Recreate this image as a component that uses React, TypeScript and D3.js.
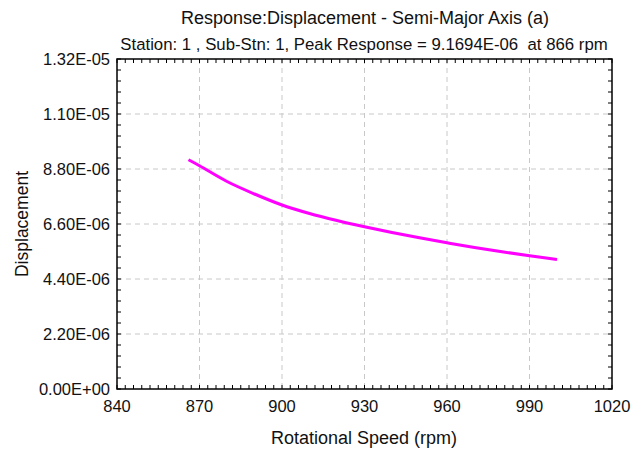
import React from "react";
import * as d3 from "d3";

const rpm = [866, 870, 880, 890, 900, 910, 920, 930, 940, 950, 960, 970, 980, 990, 1000];
const displacement = [
  9.1694e-6, 8.93e-6, 8.3e-6, 7.8e-6, 7.36e-6, 7.02e-6, 6.74e-6, 6.49e-6,
  6.26e-6, 6.05e-6, 5.85e-6, 5.66e-6, 5.49e-6, 5.33e-6, 5.18e-6,
];
const xTicks = [840, 870, 900, 930, 960, 990, 1020];
const yTicks = [0, 2.2e-6, 4.4e-6, 6.6e-6, 8.8e-6, 1.1e-5, 1.32e-5];
const yTickLabels = ["0.00E+00", "2.20E-06", "4.40E-06", "6.60E-06", "8.80E-06", "1.10E-05", "1.32E-05"];

const title = "Response:Displacement - Semi-Major Axis (a)";
const subtitle = "Station: 1 , Sub-Stn: 1, Peak Response = 9.1694E-06  at 866 rpm";

export default function App() {
  const W = 642, H = 450;
  const left = 117, right = 612, top = 59, bottom = 389;
  const x = d3.scaleLinear().domain([840, 1020]).range([left, right]);
  const y = d3.scaleLinear().domain([0, 1.32e-5]).range([bottom, top]);

  const xMinor = d3.range(840, 1020.001, 3);
  const yMinor = d3.range(0, 31).map((i) => i * 4.4e-7);

  const line = d3
    .line<number>()
    .x((_, i) => x(rpm[i]))
    .y((d) => y(d))
    .curve(d3.curveCatmullRom);

  const font = "Arial, 'Liberation Sans', sans-serif";
  const tickLen = 4;
  const gridColor = "#c8c8c8";

  return (
    <svg
      width={W}
      height={H}
      style={{ position: "absolute", left: 0, top: 0, background: "#fff" }}
      fontFamily={font}
    >
      <rect x={0} y={0} width={W} height={H} fill="#fff" />
      {/* grid */}
      {xTicks.slice(1, -1).map((t) => (
        <line key={"gx" + t} x1={x(t)} x2={x(t)} y1={top} y2={bottom} stroke={gridColor} strokeDasharray="5,4" />
      ))}
      {yTicks.slice(1, -1).map((t) => (
        <line key={"gy" + t} x1={left} x2={right} y1={y(t)} y2={y(t)} stroke={gridColor} strokeDasharray="5,4" />
      ))}
      {/* minor ticks, inward on all four sides */}
      {xMinor.map((t) => (
        <g key={"mx" + t}>
          <line x1={x(t)} x2={x(t)} y1={bottom} y2={bottom - tickLen} stroke="#000" />
          <line x1={x(t)} x2={x(t)} y1={top} y2={top + tickLen} stroke="#000" />
        </g>
      ))}
      {yMinor.map((t, i) => (
        <g key={"my" + i}>
          <line x1={left} x2={left + tickLen} y1={y(t)} y2={y(t)} stroke="#000" />
          <line x1={right} x2={right - tickLen} y1={y(t)} y2={y(t)} stroke="#000" />
        </g>
      ))}
      {/* frame */}
      <rect x={left} y={top} width={right - left} height={bottom - top} fill="none" stroke="#000" strokeWidth={1.5} />
      {/* curve */}
      <path d={line(displacement) || ""} fill="none" stroke="#ff00ff" strokeWidth={3} />
      {/* tick labels */}
      {xTicks.map((t) => (
        <text key={"xl" + t} x={x(t)} y={412} textAnchor="middle" fontSize={16.5} fill="#111">
          {t}
        </text>
      ))}
      {yTicks.map((t, i) => (
        <text key={"yl" + t} x={110} y={y(t) + 6} textAnchor="end" fontSize={16.5} fill="#111">
          {yTickLabels[i]}
        </text>
      ))}
      {/* titles */}
      <text x={365} y={24} textAnchor="middle" fontSize={18} fill="#111">
        {title}
      </text>
      <text x={364} y={50} textAnchor="middle" fontSize={16.8} fill="#111" style={{ whiteSpace: "pre" }}>
        {subtitle}
      </text>
      <text x={364} y={444} textAnchor="middle" fontSize={18} fill="#111">
        Rotational Speed (rpm)
      </text>
      <text transform={`translate(28,224) rotate(-90)`} textAnchor="middle" fontSize={17.5} fill="#111">
        Displacement
      </text>
    </svg>
  );
}
